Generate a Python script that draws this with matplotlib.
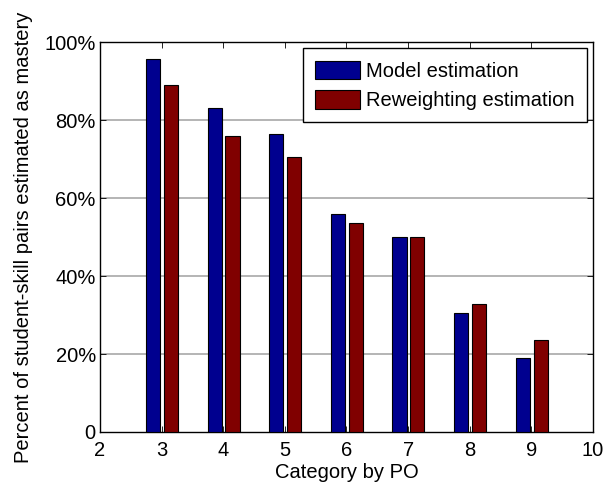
import numpy as np
import matplotlib.pyplot as plt
from matplotlib.ticker import FuncFormatter

plt.rcParams['font.family'] = ['Liberation Sans', 'DejaVu Sans']

categories = [3, 4, 5, 6, 7, 8, 9]
model = [95.7, 83.1, 76.3, 55.9, 50.0, 30.4, 19.1]
reweight = [88.9, 75.8, 70.6, 53.6, 50.0, 32.7, 23.7]

fs = 14.5
fig = plt.figure(figsize=(6.15, 4.83), dpi=100)
ax = fig.add_axes([0.1626, 0.1056, 0.8016, 0.8074])

x = np.array(categories)
w = 0.23
ax.bar(x - 0.14, model, w, color='#00008f', edgecolor='black', lw=0.8,
       label='Model estimation', zorder=3)
ax.bar(x + 0.15, reweight, w, color='#800000', edgecolor='black', lw=0.8,
       label='Reweighting estimation', zorder=3)

ax.set_xlim(2, 10)
ax.set_ylim(0, 100)
ax.set_xticks(range(2, 11))
ax.set_yticks([0, 20, 40, 60, 80, 100])
ax.yaxis.set_major_formatter(FuncFormatter(lambda v, p: '0' if v == 0 else '%d%%' % v))
for yv in [20, 40, 60, 80]:
    ax.axhline(yv, color='#a0a0a0', lw=1.1, zorder=1)

ax.tick_params(direction='in', length=4, labelsize=fs, top=True, right=True, width=0.6, pad=3)
ax.tick_params(axis='x', pad=6.5)
for s in ax.spines.values():
    s.set_linewidth(1.0)

ax.set_xlabel('Category by PO', fontsize=fs, labelpad=2)
ax.set_ylabel('Percent of student-skill pairs estimated as mastery', fontsize=fs, labelpad=8)

leg = ax.legend(loc='upper right', fontsize=fs, fancybox=False, framealpha=1,
                edgecolor='black', handlelength=2.25, handleheight=1.05,
                borderaxespad=0.32, handletextpad=0.3, labelspacing=0.45,
                borderpad=0.6)
leg.get_frame().set_linewidth(1.0)

fig.savefig('out.png', dpi=100)
